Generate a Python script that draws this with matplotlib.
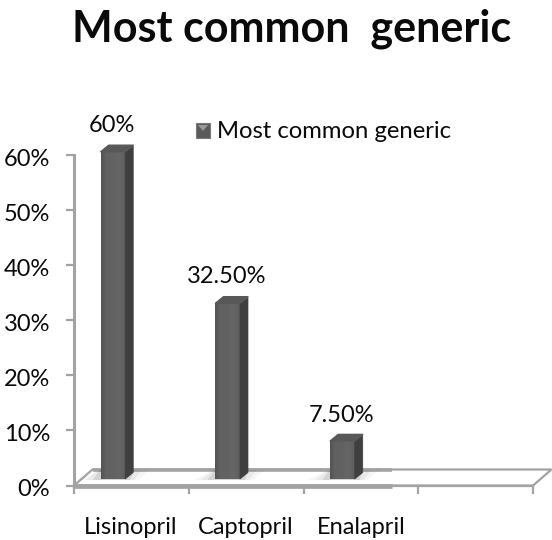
import numpy as np
import matplotlib
matplotlib.use("Agg")
import matplotlib.pyplot as plt
from matplotlib.patches import Polygon, Rectangle
from matplotlib.transforms import ScaledTranslation

plt.rcParams['font.family'] = ['Lato', 'Open Sans', 'DejaVu Sans']

categories = ["Lisinopril", "Captopril", "Enalapril"]
values = [0.60, 0.325, 0.075]
value_labels = ["60%", "32.50%", "7.50%"]
y_ticks = [0, 0.1, 0.2, 0.3, 0.4, 0.5, 0.6]
y_tick_labels = ["0%", "10%", "20%", "30%", "40%", "50%", "60%"]
series_name = "Most common generic"
title = "Most common  generic"

W, H = 552, 540
AX_L, AX_R, AX_B, AX_T = 74, 533, 485.5, 155
TEXT = "#0a0a0a"
AXIS = "#a3a3a3"

fig = plt.figure(figsize=(W / 100, H / 100), dpi=100, facecolor="white")
ax = fig.add_axes([AX_L / W, 1 - AX_B / H, (AX_R - AX_L) / W, (AX_B - AX_T) / H])

px = 4 / (AX_R - AX_L)  # x data units per pixel
py = 0.6 / (AX_B - AX_T)  # y data units per pixel


def fig_text(x, y, s, **kw):
    # x, y in pixels from the top left, y is the baseline
    fig.text(x / W, 1 - y / H, s, va="baseline", color=TEXT, **kw)


# floor of the 3d box
floor_dx, floor_dy = 18.5 * px, 16 * py
ax.add_patch(Polygon([(0, 0), (4, 0), (4 + floor_dx, floor_dy), (floor_dx, floor_dy)],
                     closed=True, fc="white", ec=AXIS, lw=1.6, clip_on=False, zorder=1))
# left part of the floor lines is drawn heavier in the original
ax.plot([floor_dx, 2.77], [floor_dy, floor_dy], color=AXIS, lw=2.6, zorder=1.5, solid_capstyle="butt")
ax.plot([0, 2.77], [0, 0], color=AXIS, lw=3.4, zorder=3, clip_on=False, solid_capstyle="butt")

# bars: front face + top + side
x_pos = np.array([0.233, 1.233, 2.233])
bar_w = 24.5 * px
base = 6.5 * py
lift = 3.3 * py
side_dx, side_dy = 8 * px, 6.5 * py
grad = np.array([[0.33, 0.37, 0.39, 0.38, 0.38, 0.39, 0.40, 0.40, 0.39, 0.37]])

for x, v in zip(x_pos, values):
    # soft shadow on the floor
    for k, a in zip([22, 15, 8], [0.05, 0.08, 0.14]):
        ax.add_patch(Polygon([(x - k * px, base - 1 * py), (x + bar_w + k * px * 0.6, base - 1 * py),
                              (x + bar_w + k * px * 1.1, base + 9 * py), (x - k * px * 0.1, base + 9 * py)],
                             closed=True, fc="#555555", ec="none", alpha=a, zorder=2))
    top = v + lift
    ax.bar(x, top - base, bottom=base, width=bar_w, align="edge", color="#606060", zorder=4, clip_on=False)
    ax.imshow(grad, extent=(x, x + bar_w, base, top), cmap="gray", vmin=0, vmax=1,
              aspect="auto", zorder=5, interpolation="bicubic", clip_on=False)
    ax.add_patch(Polygon([(x + bar_w, base), (x + bar_w + side_dx, base + side_dy),
                          (x + bar_w + side_dx, top + side_dy - 1 * py), (x + bar_w, top)],
                         closed=True, fc="#3f3f3f", ec="#3f3f3f", lw=0.5, joinstyle="round", zorder=5, clip_on=False))
    ax.add_patch(Polygon([(x, top), (x + bar_w, top), (x + bar_w + side_dx, top + side_dy),
                          (x + side_dx, top + side_dy)],
                         closed=True, fc="#585858", ec="#585858", lw=1.0, joinstyle="round", zorder=5, clip_on=False))
ax.set_xlim(0, 4)
ax.set_ylim(0, 0.6)

# value labels
label_x = [112, 226.5, 341.5]
label_y = [132, 283, 422]
for lx, ly, s in zip(label_x, label_y, value_labels):
    fig_text(lx, ly, s, ha="center", fontsize=17)

# axes look
for s in ["top", "right"]:
    ax.spines[s].set_visible(False)
ax.spines["left"].set_color(AXIS)
ax.spines["left"].set_linewidth(2.2)
ax.spines["bottom"].set_color(AXIS)
ax.spines["bottom"].set_linewidth(1.6)
ax.spines["left"].set_zorder(3)
ax.spines["bottom"].set_zorder(3)
ax.set_yticks(y_ticks)
ax.set_yticklabels(y_tick_labels, fontsize=17, color=TEXT, va="center_baseline")
ax.set_xticks([0, 1, 2, 3, 4])
ax.set_xticklabels([])
ax.tick_params(axis="both", color=AXIS, width=1.6, length=5.6)
ax.tick_params(axis="y", pad=11.5)
for lab in ax.get_yticklabels():
    lab.set_transform(lab.get_transform() + ScaledTranslation(0, -2 / 100, fig.dpi_scale_trans))

cat_x = [131, 245.5, 361.5]
for cx, c in zip(cat_x, categories):
    fig_text(cx, 534, c, ha="center", fontsize=17)

# legend
fig.add_artist(Rectangle((195.5 / W, 1 - 137.7 / H), 14.5 / W, 15 / H, transform=fig.transFigure,
                         fc="#5a5a5a", ec="#7a7a7a", lw=0.8))
fig.add_artist(Polygon([(198 / W, 1 - 125 / H), (208 / W, 1 - 125 / H), (203 / W, 1 - 131 / H)],
                       closed=True, transform=fig.transFigure, fc="#9a9a9a", ec="none"))
fig_text(217, 138, series_name, ha="left", fontsize=17.2)

fig_text(292, 42, title, ha="center", fontsize=31, fontweight="bold")

fig.savefig("out.png", dpi=100)
